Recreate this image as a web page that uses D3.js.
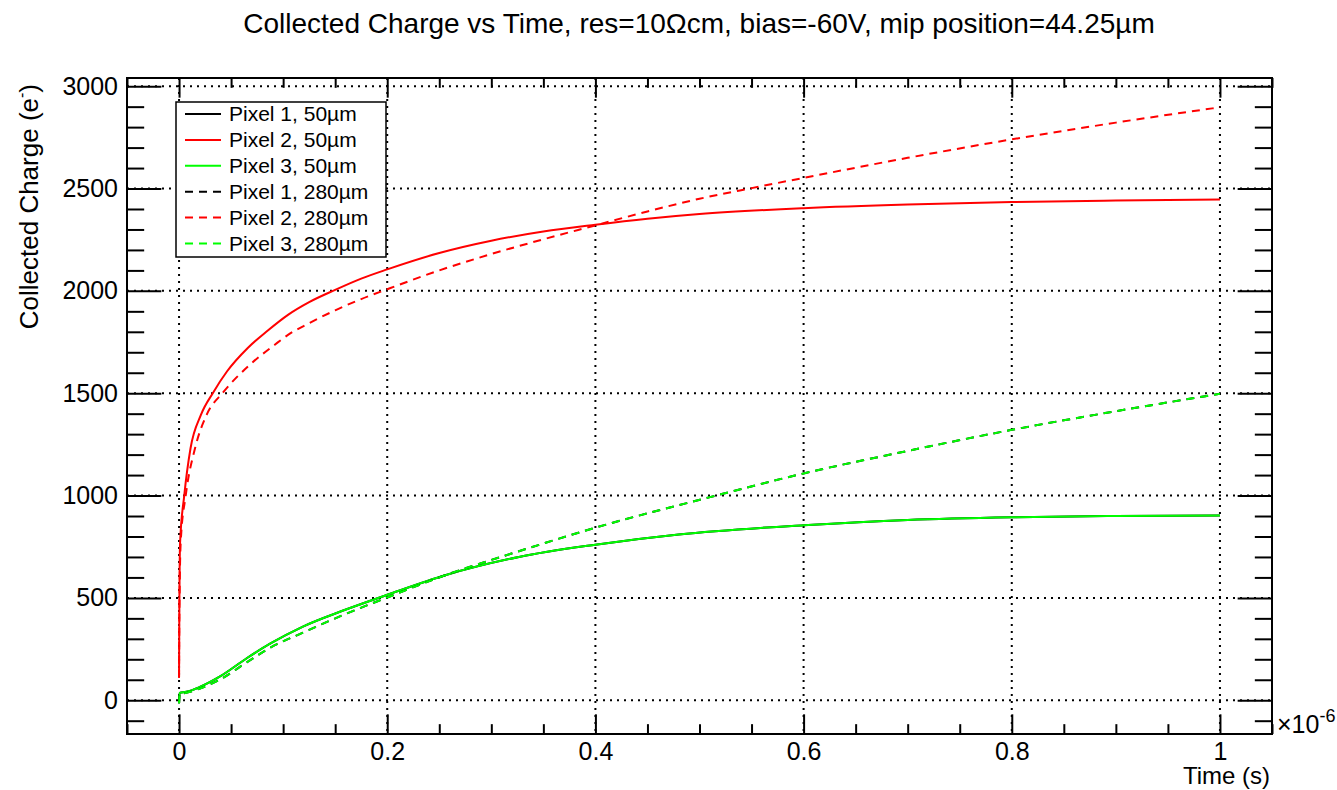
<!DOCTYPE html>
<html>
<head>
<meta charset="utf-8">
<script src="https://cdn.jsdelivr.net/npm/d3@7"></script>
<style>
  body { margin: 0; background: #fff; }
  svg { display: block; font-family: "Liberation Sans", Arial, Helvetica, sans-serif; }
</style>
</head>
<body>
<div id="chart"></div>
<script>
// time in units of 1e-6 s, charge in electrons
const timePixel2_50 = [0, 0.0003, 0.001, 0.005, 0.011, 0.021, 0.033, 0.046, 0.066, 0.085, 0.105, 0.125, 0.15, 0.175, 0.2, 0.25, 0.3, 0.35, 0.4, 0.45, 0.5, 0.6, 0.7, 0.8, 0.9, 1.0]
const chargePixel2_50 = [110, 450, 770, 1000, 1230, 1394, 1505, 1606, 1721, 1805, 1884, 1945, 2005, 2060, 2105, 2185, 2245, 2290, 2323, 2352, 2375, 2404, 2422, 2434, 2441, 2446]

const timePixel2_280 = [0, 0.0003, 0.0016, 0.0064, 0.0153, 0.0265, 0.0425, 0.068, 0.092, 0.105, 0.125, 0.15, 0.175, 0.2, 0.25, 0.3, 0.35, 0.4, 0.45, 0.5, 0.55, 0.6, 0.7, 0.8, 0.9, 1.0]
const chargePixel2_280 = [110, 400, 773, 1000, 1230, 1394, 1505, 1639, 1737, 1786, 1842, 1905, 1960, 2008, 2100, 2180, 2252, 2320, 2388, 2450, 2502, 2552, 2650, 2740, 2822, 2897]

const timePixel3_50 = [0, 0.0005, 0.007, 0.02, 0.039, 0.065, 0.087, 0.119, 0.157, 0.2, 0.2565, 0.3265, 0.4, 0.48, 0.6, 0.7, 0.8, 0.9, 1.0]
const chargePixel3_50 = [-15, 36, 41, 65, 115, 205, 275, 360, 437, 515, 612, 700, 760, 810, 855, 881, 894, 900, 903]

const timePixel3_280 = [0, 0.0005, 0.007, 0.02, 0.039, 0.065, 0.087, 0.119, 0.157, 0.2, 0.2565, 0.3265, 0.4, 0.5083, 0.6, 0.7, 0.8, 0.9, 1.0]
const chargePixel3_280 = [-15, 30, 36, 57, 100, 185, 255, 330, 415, 502, 612, 728, 843, 990, 1108, 1218, 1321, 1412, 1497]

// pixel 1 sits symmetric to pixel 3, its curves lie under the green ones
const timePixel1_50 = [0, 0.0005, 0.007, 0.02, 0.039, 0.065, 0.087, 0.119, 0.157, 0.2, 0.2565, 0.3265, 0.4, 0.48, 0.6, 0.7, 0.8, 0.9, 1.0]
const chargePixel1_50 = [-15, 36, 41, 65, 115, 205, 275, 360, 437, 515, 612, 700, 760, 810, 855, 881, 894, 900, 903]
const timePixel1_280 = [0, 0.0005, 0.007, 0.02, 0.039, 0.065, 0.087, 0.119, 0.157, 0.2, 0.2565, 0.3265, 0.4, 0.5083, 0.6, 0.7, 0.8, 0.9, 1.0]
const chargePixel1_280 = [-15, 30, 36, 57, 100, 185, 255, 330, 415, 502, 612, 728, 843, 990, 1108, 1218, 1321, 1412, 1497]

const xMajor = [0, 0.2, 0.4, 0.6, 0.8, 1]
const yMajor = [0, 500, 1000, 1500, 2000, 2500, 3000]

const legendLabels = [
  "Pixel 1, 50\u00b5m", "Pixel 2, 50\u00b5m", "Pixel 3, 50\u00b5m",
  "Pixel 1, 280\u00b5m", "Pixel 2, 280\u00b5m", "Pixel 3, 280\u00b5m"
]

const series = [
  { t: timePixel1_50, v: chargePixel1_50, color: "#000000", dash: null },
  { t: timePixel2_50, v: chargePixel2_50, color: "#ff0000", dash: null },
  { t: timePixel3_50, v: chargePixel3_50, color: "#00ff00", dash: null },
  { t: timePixel1_280, v: chargePixel1_280, color: "#000000", dash: "8,6" },
  { t: timePixel2_280, v: chargePixel2_280, color: "#ff0000", dash: "8,6" },
  { t: timePixel3_280, v: chargePixel3_280, color: "#00ff00", dash: "8,6" }
]

const W = 1337
const H = 790
const frame = { left: 127, right: 1272, top: 78, bottom: 734 }
const fw = frame.right - frame.left
const fh = frame.bottom - frame.top

const svg = d3.select("#chart").append("svg").attr("width", W).attr("height", H)

const x = d3.scaleLinear().domain([-0.05, 1.05]).range([frame.left, frame.right])
const y = d3.scaleLinear().domain([-165, 3040]).range([frame.bottom, frame.top])

const xMinor = d3.range(-0.05, 1.0501, 0.05).map(d => +d.toFixed(2)).filter(d => !xMajor.includes(d))
const yMinor = d3.range(-100, 3001, 100).filter(d => !yMajor.includes(d))

// grid
const grid = svg.append("g").attr("stroke", "#000").attr("stroke-width", 2).attr("stroke-dasharray", "2,5")
grid.selectAll(".gx").data(xMajor).join("line")
  .attr("x1", d => x(d)).attr("x2", d => x(d))
  .attr("y1", frame.top).attr("y2", frame.bottom)
grid.selectAll(".gy").data(yMajor).join("line")
  .attr("x1", frame.left).attr("x2", frame.right)
  .attr("y1", d => y(d)).attr("y2", d => y(d))

// ticks on all four sides, pointing in
const ylen = 0.03 * fw
const xlen = 0.03 * fh
function ticks(axis, transform) {
  const g = svg.append("g").attr("transform", transform).call(axis)
  g.select(".domain").remove()
  g.selectAll(".tick line").attr("stroke", "#000").attr("stroke-width", 2)
  return g
}

const fontTick = 25
const yLeft = ticks(d3.axisLeft(y).tickValues(yMajor).tickSize(-ylen).tickPadding(9).tickFormat(d3.format("d")), `translate(${frame.left},0)`)
yLeft.selectAll("text").attr("font-size", fontTick).attr("fill", "#000")
yLeft.attr("font-family", null).attr("font-size", null)
ticks(d3.axisLeft(y).tickValues(yMinor).tickSize(-ylen / 2).tickFormat(""), `translate(${frame.left},0)`)
ticks(d3.axisRight(y).tickValues(yMajor).tickSize(-ylen).tickFormat(""), `translate(${frame.right},0)`)
ticks(d3.axisRight(y).tickValues(yMinor).tickSize(-ylen / 2).tickFormat(""), `translate(${frame.right},0)`)

const xBottom = ticks(d3.axisBottom(x).tickValues(xMajor).tickSize(-xlen).tickPadding(8).tickFormat(d => d3.format("~g")(d)), `translate(0,${frame.bottom})`)
xBottom.selectAll("text").attr("font-size", fontTick).attr("fill", "#000")
xBottom.attr("font-family", null).attr("font-size", null)
ticks(d3.axisBottom(x).tickValues(xMinor).tickSize(-xlen / 2).tickFormat(""), `translate(0,${frame.bottom})`)
ticks(d3.axisTop(x).tickValues(xMajor).tickSize(-xlen).tickFormat(""), `translate(0,${frame.top})`)
ticks(d3.axisTop(x).tickValues(xMinor).tickSize(-xlen / 2).tickFormat(""), `translate(0,${frame.top})`)

// curves
svg.append("clipPath").attr("id", "clip").append("rect")
  .attr("x", frame.left).attr("y", frame.top).attr("width", fw).attr("height", fh)

const line = d3.line().x(d => x(d[0])).y(d => y(d[1])).curve(d3.curveMonotoneX)

svg.append("g").attr("clip-path", "url(#clip)")
  .selectAll("path").data(series).join("path")
  .attr("d", s => line(s.t.map((t, i) => [t, s.v[i]])))
  .attr("fill", "none")
  .attr("stroke", s => s.color)
  .attr("stroke-width", 2)
  .attr("stroke-dasharray", s => s.dash)

// frame
svg.append("rect")
  .attr("x", frame.left).attr("y", frame.top).attr("width", fw).attr("height", fh)
  .attr("fill", "none").attr("stroke", "#000").attr("stroke-width", 2)

// legend
const leg = svg.append("g").attr("transform", "translate(176,102)")
leg.append("rect").attr("width", 210).attr("height", 155)
  .attr("fill", "#fff").attr("stroke", "#000").attr("stroke-width", 1.5)
const rowH = 25.9
const rows = leg.selectAll(".row").data(series).join("g")
  .attr("transform", (d, i) => `translate(0,${12 + i * rowH})`)
rows.append("line").attr("x1", 9).attr("x2", 45).attr("y1", 0).attr("y2", 0)
  .attr("stroke", d => d.color).attr("stroke-width", 2).attr("stroke-dasharray", d => d.dash)
rows.append("text").attr("x", 53).attr("dy", "0.35em").attr("font-size", 21)
  .text((d, i) => legendLabels[i])

// titles
svg.append("text").attr("x", 699).attr("y", 33).attr("text-anchor", "middle").attr("font-size", 28)
  .text("Collected Charge vs Time, res=10\u03a9cm, bias=-60V, mip position=44.25\u00b5m")

svg.append("text").attr("x", 1270).attr("y", 784).attr("text-anchor", "end").attr("font-size", 24)
  .text("Time (s)")

const yt = svg.append("text").attr("transform", "translate(38,84) rotate(-90)")
  .attr("text-anchor", "end").attr("font-size", 26)
yt.append("tspan").text("Collected Charge (e")
yt.append("tspan").attr("font-size", 16).attr("dy", -11).text("-")
yt.append("tspan").attr("dy", 11).text(")")

const ex = svg.append("text").attr("x", 1277).attr("y", 733).attr("font-size", 25)
ex.append("tspan").text("\u00d710")
ex.append("tspan").attr("font-size", 18).attr("dy", -11).text("-6")
</script>
</body>
</html>
